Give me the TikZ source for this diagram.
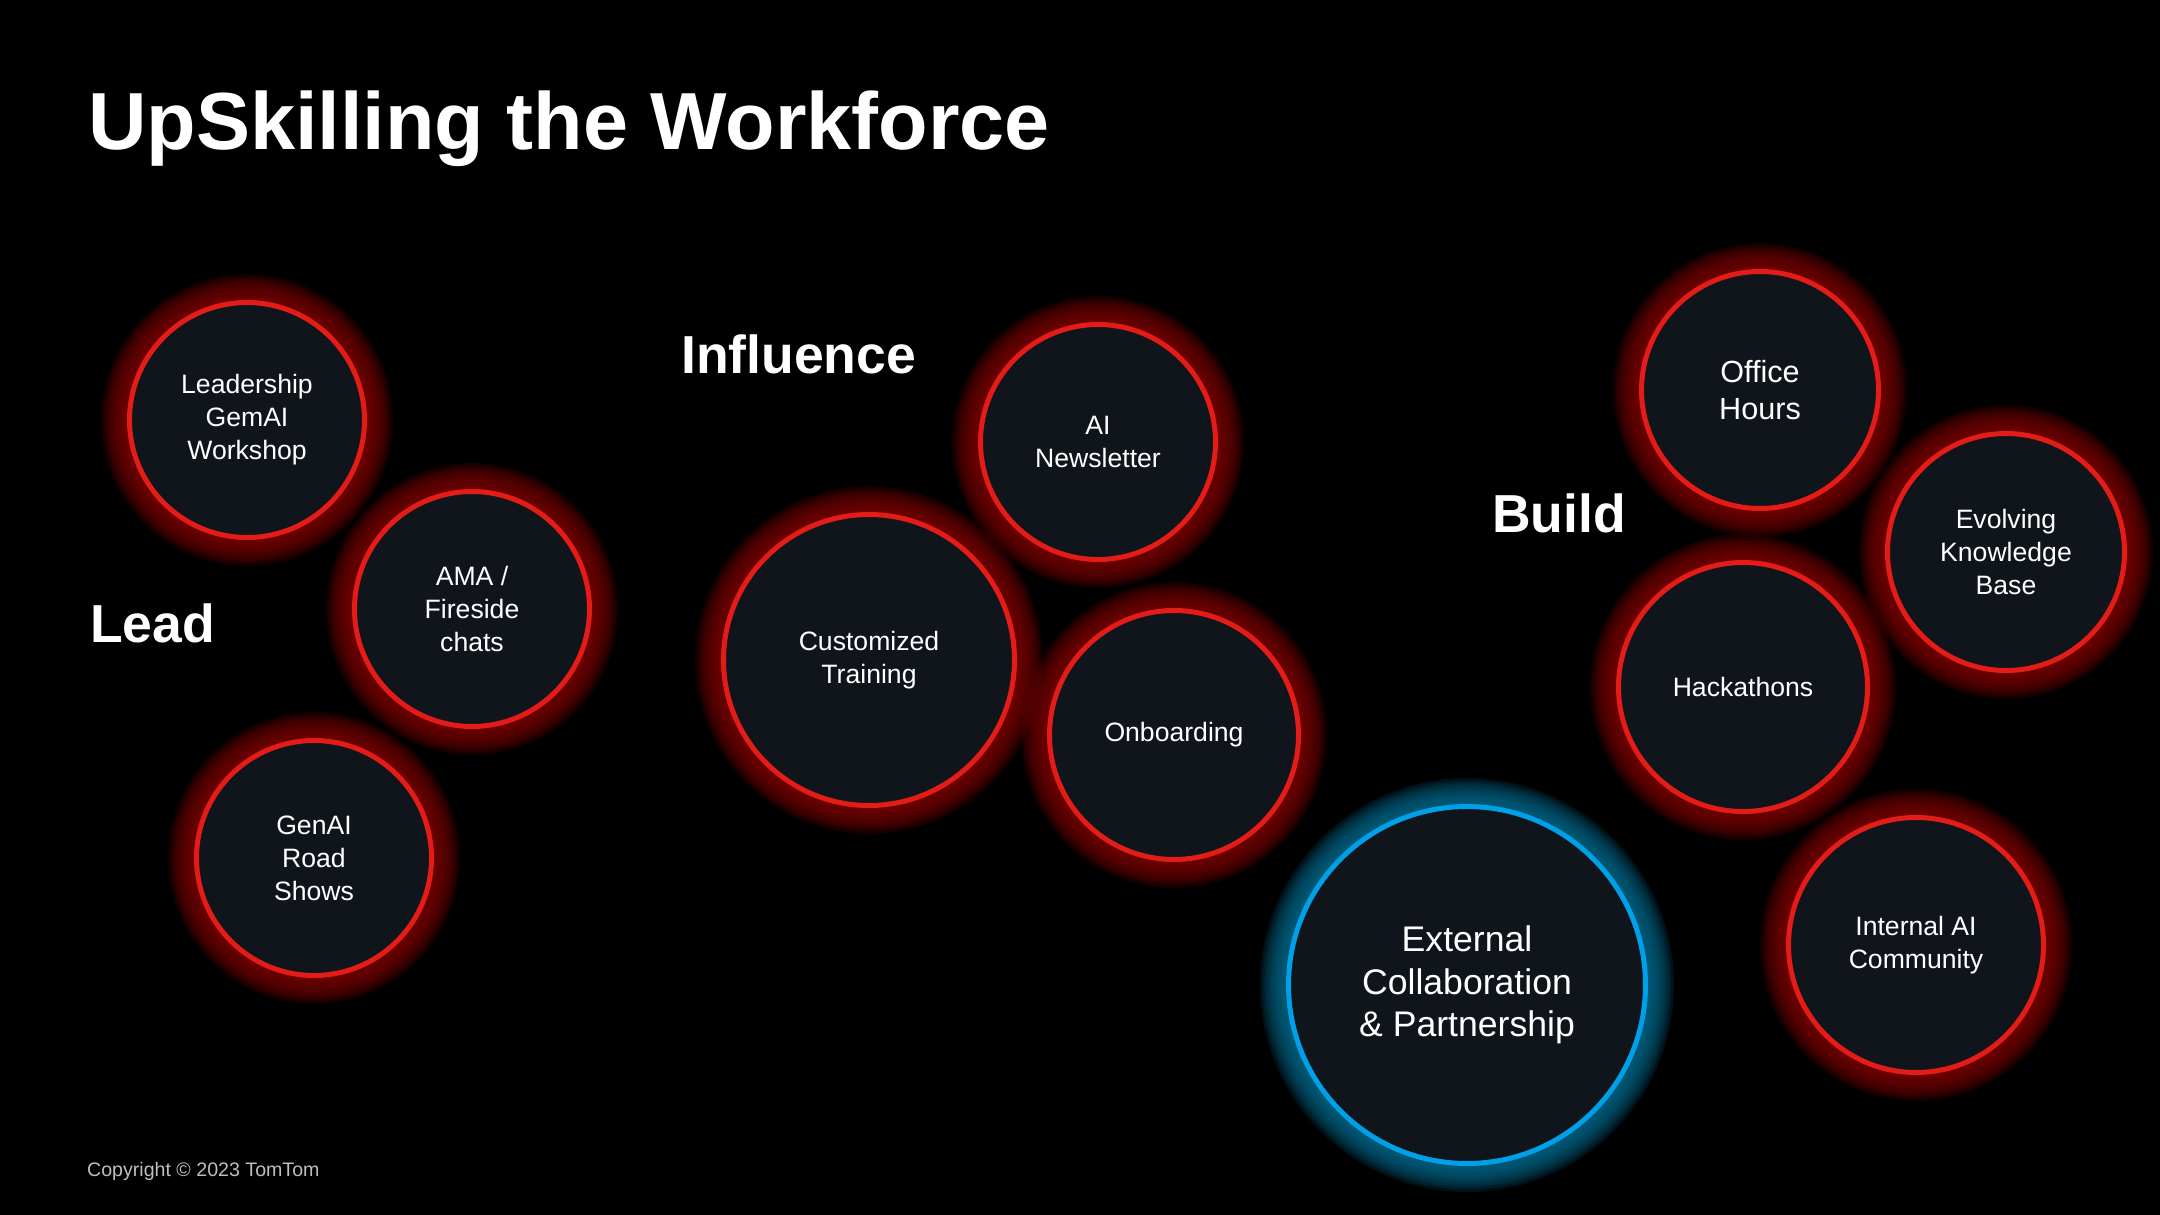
\documentclass[tikz,border=0pt]{standalone}
\usepackage{fontspec}
\setmainfont{Liberation Sans}
\usetikzlibrary{backgrounds,calc}
\definecolor{bubblefill}{RGB}{16,21,27}
\definecolor{bubblered}{RGB}{228,28,24}
\definecolor{glowred}{RGB}{125,0,0}
\definecolor{bubbleblue}{RGB}{0,160,233}
\definecolor{glowblue}{RGB}{0,105,140}
\definecolor{copygray}{RGB}{190,190,190}

\begin{document}
\begin{tikzpicture}[
			x=1pt, y=-1pt,
			bubble/.style={circle, line width=5pt, fill=bubblefill, inner sep=0pt, text=white, align=center, minimum size=#1},
			red bubble/.style={bubble=#1, draw=bubblered, font=\fontsize{26.6}{33}\selectfont},
			blue bubble/.style={bubble=#1, draw=bubbleblue, font=\fontsize{35.6}{42.7}\selectfont},
			section label/.style={anchor=base west, inner sep=0pt, text=white, font=\fontsize{53.5}{64}\selectfont\bfseries}
			]
			
			\useasboundingbox (0,0) rectangle (2160,1215);
			
			\node[anchor=base west, inner sep=0pt, text=white, font=\fontsize{81}{96}\selectfont\bfseries] (title) at (88,149) {UpSkilling the Workforce};
			\node[section label] (lead) at (90,642) {Lead};
			\node[section label] (influence) at (681,373) {Influence};
			\node[section label] (build) at (1492,532) {Build};
			
			\node[red bubble=235] (lgw) at (247,420) {Leadership\\GemAI\\Workshop};
			\node[red bubble=235] (ama) at (472,609) {AMA /\\Fireside\\chats};
			\node[red bubble=235] (road) at (314,858) {GenAI\\Road\\Shows};
			\node[red bubble=235] (news) at (1098,442) {AI\\Newsletter};
			\node[red bubble=291] (train) at (869,660) {Customized\\Training};
			\node[red bubble=249] (onboard) at (1174,735) {Onboarding};
			\node[blue bubble=357] (ext) at (1467,985) {External\\Collaboration\\\& Partnership};
			\node[red bubble=237, font=\fontsize{30.6}{36.7}\selectfont] (office) at (1760,390) {Office\\Hours};
			\node[red bubble=237] (kb) at (2006,552) {Evolving\\Knowledge\\Base};
			\node[red bubble=249] (hack) at (1743,687) {Hackathons};
			\node[red bubble=255] (community) at (1916,945) {Internal AI\\Community};
			
			\node[anchor=base west, inner sep=0pt, text=copygray, font=\fontsize{19.6}{24}\selectfont] (copyright) at (87,1176) {Copyright © 2023 TomTom};
			
			\begin{pgfonlayer}{background}
				\fill[black] (0,0) rectangle (2160,1215);
				\foreach \bb/\gc in {lgw/glowred, ama/glowred, road/glowred, news/glowred, train/glowred, onboard/glowred, ext/glowblue, office/glowred, kb/glowred, hack/glowred, community/glowred}
				\foreach \k in {1,...,10}
				\fill[\gc, fill opacity=0.17] let \p1=($(\bb.east)-(\bb.center)$) in (\bb.center) circle ({\x1+2.6*\k});
			\end{pgfonlayer}
		\end{tikzpicture}
\end{document}
